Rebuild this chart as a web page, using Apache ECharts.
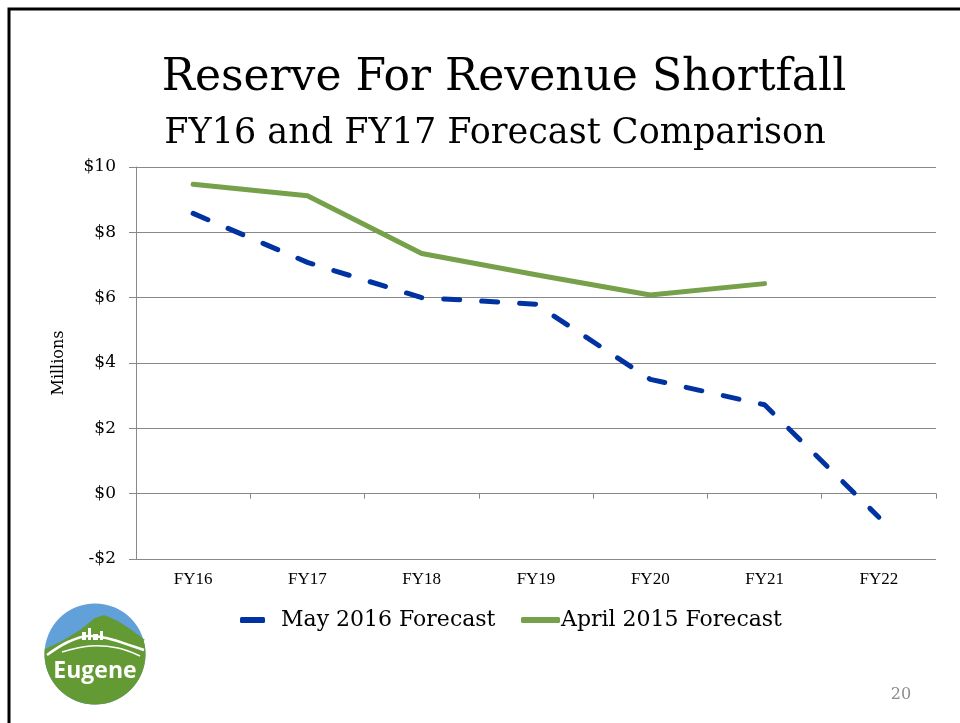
<!DOCTYPE html>
<html>
<head>
<meta charset="utf-8">
<script src="https://cdn.jsdelivr.net/npm/echarts@6/dist/echarts.min.js"></script>
<style>
  html, body { margin: 0; padding: 0; background: #fff; }
  #chart { width: 960px; height: 723px; }
</style>
</head>
<body>
<div id="chart"></div>
<script>
// data
const categories = ['FY16', 'FY17', 'FY18', 'FY19', 'FY20', 'FY21', 'FY22'];
const may2016 = [8.58, 7.08, 6.0, 5.8, 3.5, 2.72, -0.72];
const april2015 = [9.47, 9.12, 7.35, 6.7, 6.08, 6.43, null];
const seriesNames = ['May 2016 Forecast', 'April 2015 Forecast'];

const serif = '"DejaVu Serif", "Liberation Serif", serif';
const times = '"Liberation Serif", serif';
const blue = '#0033a1';
const green = '#77a04a';

// Eugene logo, drawn roughly (decoration only)
function logoShapes() {
  const cx = 95, cy = 654, r = 50.5;
  const pts = [[45, 649], [62, 641], [80, 630], [95, 618], [104, 615], [118, 621], [133, 631], [145, 640]];
  const a0 = Math.atan2(640 - cy, 145 - cx);
  let a1 = Math.atan2(649 - cy, 45 - cx);
  if (a1 < a0) a1 += Math.PI * 2;
  for (let i = 0; i <= 48; i++) {
    const a = a0 + (a1 - a0) * i / 48;
    pts.push([cx + r * Math.cos(a), cy + r * Math.sin(a)]);
  }
  return [
    { type: 'circle', shape: { cx: cx, cy: cy, r: r }, style: { fill: '#62a0d9' } },
    { type: 'polygon', shape: { points: pts }, style: { fill: '#639a34' } },
    { type: 'polyline', shape: { points: [[47, 655], [68, 642], [88, 636], [110, 639], [132, 646], [144, 650]], smooth: 0.4 },
      style: { stroke: '#fff', lineWidth: 2.5, fill: null } },
    { type: 'polyline', shape: { points: [[62, 652], [90, 646], [118, 648], [140, 656]], smooth: 0.4 },
      style: { stroke: '#fff', lineWidth: 1.5, fill: null } },
    { type: 'rect', shape: { x: 82, y: 632, width: 4, height: 8 }, style: { fill: '#fff' } },
    { type: 'rect', shape: { x: 88, y: 628, width: 3, height: 12 }, style: { fill: '#fff' } },
    { type: 'rect', shape: { x: 93, y: 634, width: 5, height: 6 }, style: { fill: '#fff' } },
    { type: 'rect', shape: { x: 100, y: 631, width: 3, height: 9 }, style: { fill: '#fff' } },
    { type: 'text', x: 95, y: 671, style: { text: 'Eugene', fill: '#fff', font: 'bold 23px "Open Sans", sans-serif', align: 'center', verticalAlign: 'middle' } }
  ];
}

const chart = echarts.init(document.getElementById('chart'));

const option = {
  backgroundColor: '#fff',
  animation: false,
  title: [
    {
      text: 'Reserve For Revenue Shortfall',
      left: 499, top: 52, textAlign: 'center',
      textStyle: { fontFamily: serif, fontSize: 44, fontWeight: 'normal', color: '#000' }
    },
    {
      text: 'FY16 and FY17 Forecast Comparison',
      left: 490, top: 111, textAlign: 'center',
      textStyle: { fontFamily: serif, fontSize: 35, fontWeight: 'normal', color: '#000' }
    }
  ],
  legend: [
    {
      data: [{ name: seriesNames[0], icon: 'roundRect' }],
      left: 235, top: 604,
      itemWidth: 25, itemHeight: 6,
      textStyle: { fontFamily: serif, fontSize: 22, color: '#000', padding: [0, 0, 0, 11] }
    },
    {
      data: [{ name: seriesNames[1], icon: 'roundRect' }],
      left: 516, top: 604,
      itemWidth: 39, itemHeight: 6,
      textStyle: { fontFamily: serif, fontSize: 22, color: '#000', padding: [0, 0, 0, -4] }
    }
  ],
  grid: { left: 136, right: 24, top: 167, bottom: 164 },
  xAxis: [
    {
      type: 'category',
      data: categories,
      position: 'bottom',
      axisLine: { show: false, onZero: false },
      axisTick: { show: false },
      axisLabel: { fontFamily: times, fontSize: 17, color: '#000', margin: 12 }
    },
    {
      type: 'category',
      data: categories,
      position: 'bottom',
      axisLine: { onZero: true, lineStyle: { color: '#888', width: 1 } },
      axisTick: { show: true, length: 5, lineStyle: { color: '#888' } },
      axisLabel: { show: false }
    }
  ],
  yAxis: {
    type: 'value',
    min: -2, max: 10, interval: 2,
    name: 'Millions',
    nameLocation: 'middle',
    nameGap: 69,
    nameTextStyle: { fontFamily: serif, fontSize: 16, color: '#000' },
    axisLine: { show: true, lineStyle: { color: '#888' } },
    axisTick: { show: true, length: 7, lineStyle: { color: '#888' } },
    splitLine: { lineStyle: { color: '#888', width: 1 } },
    axisLabel: {
      fontFamily: serif, fontSize: 17, color: '#000', margin: 20,
      formatter: v => (v < 0 ? '-$' + Math.abs(v) : '$' + v)
    }
  },
  series: [
    {
      name: seriesNames[0],
      type: 'line',
      data: may2016,
      symbol: 'none',
      itemStyle: { color: blue },
      lineStyle: { color: blue, width: 5, type: [16, 22], cap: 'round' }
    },
    {
      name: seriesNames[1],
      type: 'line',
      data: april2015,
      symbol: 'none',
      itemStyle: { color: green },
      lineStyle: { color: green, width: 5, cap: 'round', join: 'round' }
    }
  ],
  graphic: [
    { type: 'rect', shape: { x: 9, y: 9, width: 1000, height: 1000 }, style: { fill: null, stroke: '#000', lineWidth: 3 }, z: 10 },
    { type: 'text', x: 901, y: 695, style: { text: '20', fill: '#8c8c8c', font: '16px ' + serif, align: 'center', verticalAlign: 'middle' } }
  ].concat(logoShapes())
};

chart.setOption(option);
</script>
</body>
</html>
